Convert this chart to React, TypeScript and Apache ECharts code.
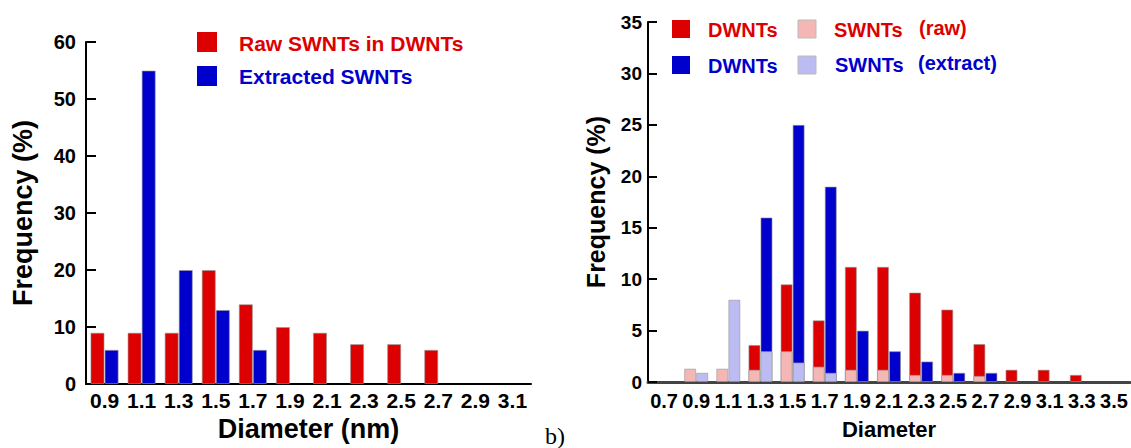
import React, { useEffect, useRef } from "react";
import * as echarts from "echarts";

// ---- Left chart data ----
const leftCategories = ["0.9", "1.1", "1.3", "1.5", "1.7", "1.9", "2.1", "2.3", "2.5", "2.7", "2.9", "3.1"];
const leftRawSWNTs = [9, 9, 9, 20, 14, 10, 9, 7, 7, 6, 0, 0];
const leftExtractedSWNTs = [6, 55, 20, 13, 6, 0, 0, 0, 0, 0, 0, 0];
const leftYTicks = { min: 0, max: 60, interval: 10 };

// ---- Right chart data ----
const rightCategories = ["0.7", "0.9", "1.1", "1.3", "1.5", "1.7", "1.9", "2.1", "2.3", "2.5", "2.7", "2.9", "3.1", "3.3", "3.5"];
const rightDWNTsRaw = [0, 0, 0, 3.6, 9.5, 6.0, 11.2, 11.2, 8.7, 7.05, 3.7, 1.2, 1.2, 0.7, 0];
const rightSWNTsRaw = [0, 1.3, 1.3, 1.2, 3.0, 1.5, 1.2, 1.2, 0.7, 0.7, 0.6, 0, 0, 0, 0];
const rightDWNTsExtract = [0, 0, 0, 16, 25, 19, 5, 3, 2, 0.9, 0.9, 0, 0, 0, 0];
const rightSWNTsExtract = [0, 0.9, 8, 3, 1.9, 0.9, 0, 0, 0, 0, 0, 0, 0, 0, 0];
const rightYTicks = { min: 0, max: 35, interval: 5 };

const RED = "#DD0000";
const BLUE = "#0000CC";
const PINK = "#F5B6B6";
const LIGHTBLUE = "#BCBCF2";
const FONT = "'Liberation Sans', Arial, sans-serif";

const nz = (arr: number[]) => arr.map((v) => (v === 0 ? "-" : v));

export default function App() {
  const ref = useRef<HTMLDivElement>(null);

  useEffect(() => {
    if (!ref.current) return;
    const chart = echarts.init(ref.current, undefined, { renderer: "svg" });

    const tickLabel = (size: number, margin: number) => ({
      color: "#000",
      fontFamily: FONT,
      fontWeight: "bold" as const,
      fontSize: size,
      margin,
    });

    const barStyle = (color: string) => ({
      color,
      borderColor: "rgba(150,150,150,0.6)",
      borderWidth: 1,
    });

    const option: any = {
      animation: false,
      backgroundColor: "#fff",
      grid: [
        { left: 86, top: 42, width: 445, height: 342 },
        { left: 648, top: 22, width: 482, height: 360 },
      ],
      xAxis: [
        {
          type: "category",
          gridIndex: 0,
          data: leftCategories,
          boundaryGap: true,
          axisLine: { lineStyle: { color: "#000", width: 2 } },
          axisTick: { show: false },
          axisLabel: { ...tickLabel(21, 6), interval: 0 },
          name: "Diameter (nm)",
          nameLocation: "middle",
          nameGap: 25,
          nameTextStyle: { color: "#000", fontFamily: FONT, fontWeight: "bold", fontSize: 27 },
        },
        {
          type: "category",
          gridIndex: 1,
          data: rightCategories,
          boundaryGap: true,
          axisLine: { lineStyle: { color: "#444", width: 3 } },
          axisTick: { show: false },
          axisLabel: { ...tickLabel(20, 9), interval: 0 },
          name: "Diameter",
          nameLocation: "middle",
          nameGap: 36,
          nameTextStyle: { color: "#000", fontFamily: FONT, fontWeight: "bold", fontSize: 22 },
        },
        {
          type: "category",
          gridIndex: 1,
          data: rightCategories,
          boundaryGap: true,
          show: false,
        },
      ],
      yAxis: [
        {
          type: "value",
          gridIndex: 0,
          ...leftYTicks,
          axisLine: { show: true, lineStyle: { color: "#000", width: 2 } },
          axisTick: { show: true, inside: true, length: 10, lineStyle: { color: "#000", width: 2 } },
          axisLabel: tickLabel(20, 10),
          splitLine: { show: false },
          name: "Frequency (%)",
          nameLocation: "middle",
          nameGap: 50,
          nameTextStyle: { color: "#000", fontFamily: FONT, fontWeight: "bold", fontSize: 27 },
        },
        {
          type: "value",
          gridIndex: 1,
          ...rightYTicks,
          axisLine: { show: true, lineStyle: { color: "#000", width: 2 } },
          axisTick: { show: true, inside: true, length: 9, lineStyle: { color: "#000", width: 2 } },
          axisLabel: tickLabel(19, 6),
          splitLine: { show: false },
          name: "Frequency (%)",
          nameLocation: "middle",
          nameGap: 40,
          nameTextStyle: { color: "#000", fontFamily: FONT, fontWeight: "bold", fontSize: 25 },
        },
      ],
      series: [
        {
          name: "Raw SWNTs in DWNTs",
          type: "bar",
          xAxisIndex: 0,
          yAxisIndex: 0,
          data: nz(leftRawSWNTs),
          itemStyle: barStyle(RED),
          barGap: "0%",
          barCategoryGap: "24%",
        },
        {
          name: "Extracted SWNTs",
          type: "bar",
          xAxisIndex: 0,
          yAxisIndex: 0,
          data: nz(leftExtractedSWNTs),
          itemStyle: barStyle(BLUE),
          barGap: "0%",
          barCategoryGap: "24%",
        },
        {
          name: "DWNTs (raw)",
          type: "bar",
          xAxisIndex: 1,
          yAxisIndex: 1,
          data: nz(rightDWNTsRaw),
          itemStyle: barStyle(RED),
          barGap: "0%",
          barCategoryGap: "25%",
        },
        {
          name: "DWNTs (extract)",
          type: "bar",
          xAxisIndex: 1,
          yAxisIndex: 1,
          data: nz(rightDWNTsExtract),
          itemStyle: barStyle(BLUE),
          barGap: "0%",
          barCategoryGap: "25%",
        },
        {
          name: "SWNTs (raw)",
          type: "bar",
          xAxisIndex: 2,
          yAxisIndex: 1,
          z: 5,
          data: nz(rightSWNTsRaw),
          itemStyle: barStyle(PINK),
          barGap: "0%",
          barCategoryGap: "25%",
        },
        {
          name: "SWNTs (extract)",
          type: "bar",
          xAxisIndex: 2,
          yAxisIndex: 1,
          z: 5,
          data: nz(rightSWNTsExtract),
          itemStyle: barStyle(LIGHTBLUE),
          barGap: "0%",
          barCategoryGap: "25%",
        },
      ],
      graphic: [
        // left legend
        { type: "rect", shape: { x: 197, y: 32, width: 20, height: 20 }, style: { fill: RED } },
        { type: "text", x: 239, y: 43, style: { text: "Raw SWNTs in DWNTs", fill: RED, font: `bold 21px ${FONT}`, verticalAlign: "middle" } },
        { type: "rect", shape: { x: 197, y: 66, width: 20, height: 20 }, style: { fill: BLUE } },
        { type: "text", x: 239, y: 76, style: { text: "Extracted SWNTs", fill: BLUE, font: `bold 21px ${FONT}`, verticalAlign: "middle" } },
        // right legend
        { type: "rect", shape: { x: 672, y: 20, width: 18, height: 18 }, style: { fill: RED } },
        { type: "text", x: 708, y: 30, style: { text: "DWNTs", fill: RED, font: `bold 20px ${FONT}`, verticalAlign: "middle" } },
        { type: "rect", shape: { x: 798, y: 20, width: 18, height: 18 }, style: { fill: PINK, stroke: "#bbb", lineWidth: 1 } },
        { type: "text", x: 834, y: 30, style: { text: "SWNTs", fill: RED, font: `bold 20px ${FONT}`, verticalAlign: "middle" } },
        { type: "text", x: 919, y: 28, style: { text: "(raw)", fill: RED, font: `bold 20px ${FONT}`, verticalAlign: "middle" } },
        { type: "rect", shape: { x: 672, y: 56, width: 18, height: 18 }, style: { fill: BLUE } },
        { type: "text", x: 708, y: 66, style: { text: "DWNTs", fill: BLUE, font: `bold 20px ${FONT}`, verticalAlign: "middle" } },
        { type: "rect", shape: { x: 798, y: 56, width: 18, height: 18 }, style: { fill: LIGHTBLUE, stroke: "#bbb", lineWidth: 1 } },
        { type: "text", x: 835, y: 65, style: { text: "SWNTs", fill: BLUE, font: `bold 20px ${FONT}`, verticalAlign: "middle" } },
        { type: "text", x: 918, y: 63, style: { text: "(extract)", fill: BLUE, font: `bold 20px ${FONT}`, verticalAlign: "middle" } },
        // panel label
        { type: "text", x: 545, y: 436, style: { text: "b)", fill: "#000", font: `24px 'Liberation Serif', 'Times New Roman', serif`, verticalAlign: "middle" } },
      ],
    };

    chart.setOption(option);
    return () => chart.dispose();
  }, []);

  return (
    <div
      ref={ref}
      style={{ position: "absolute", left: 0, top: 0, width: 1131, height: 448, background: "#fff" }}
    />
  );
}
